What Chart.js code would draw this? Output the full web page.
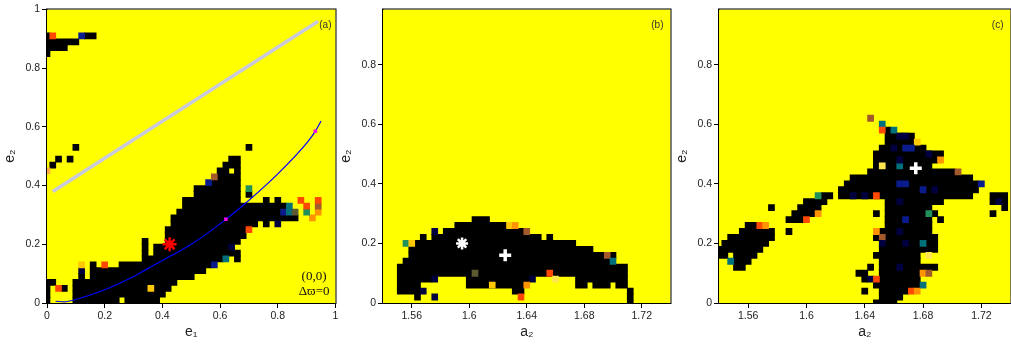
<!DOCTYPE html>
<html>
<head>
<meta charset="utf-8">
<script src="https://cdn.jsdelivr.net/npm/chart.js@4.4.1/dist/chart.umd.min.js"></script>
<style>
  html, body { margin: 0; padding: 0; background: #fff; width: 1011px; height: 345px; overflow: hidden; }
  canvas { position: absolute; top: 0; }
  #chartA { left: 0; }
  #chartB { left: 336px; }
  #chartC { left: 672px; }
</style>
</head>
<body>
<canvas id="chartA" width="345" height="345"></canvas>
<canvas id="chartB" width="344" height="345"></canvas>
<canvas id="chartC" width="348" height="345"></canvas>
<script>
// tick labels
const aTicks = [0, 0.2, 0.4, 0.6, 0.8, 1];
const bcXTicks = [1.56, 1.6, 1.64, 1.68, 1.72];
const bcYTicks = [0, 0.2, 0.4, 0.6, 0.8];

// panel (a): black runs [e2 of row, e1 of first cell, e1 of last cell]
const aBlack = [
  [0.91, 0, 0], [0.91, 0.14, 0.16], [0.89, 0, 0.10], [0.87, 0, 0.06], [0.85, 0, 0],
  [0.53, 0.10, 0.10], [0.53, 0.70, 0.70],
  [0.49, 0.04, 0.04], [0.49, 0.08, 0.08], [0.49, 0.64, 0.66],
  [0.47, 0.02, 0.02], [0.47, 0.62, 0.66],
  [0.45, 0.60, 0.62], [0.45, 0.66, 0.66],
  [0.43, 0.60, 0.66], [0.41, 0.58, 0.66], [0.39, 0.52, 0.66],
  [0.37, 0.52, 0.66], [0.37, 0.70, 0.70],
  [0.35, 0.48, 0.66], [0.35, 0.76, 0.76], [0.35, 0.80, 0.80],
  [0.33, 0.48, 0.82], [0.31, 0.46, 0.80], [0.29, 0.44, 0.86],
  [0.27, 0.44, 0.72], [0.27, 0.76, 0.76],
  [0.25, 0.42, 0.68], [0.23, 0.42, 0.68],
  [0.21, 0.34, 0.34], [0.21, 0.42, 0.66],
  [0.19, 0.34, 0.34], [0.19, 0.38, 0.62],
  [0.17, 0.34, 0.34], [0.17, 0.38, 0.66],
  [0.15, 0.34, 0.60], [0.15, 0.66, 0.66],
  [0.13, 0.16, 0.16], [0.13, 0.26, 0.56],
  [0.11, 0.16, 0.54],
  [0.09, 0.12, 0.12], [0.09, 0.16, 0.50],
  [0.07, 0, 0.02], [0.07, 0.10, 0.44],
  [0.05, 0, 0], [0.05, 0.06, 0.06], [0.05, 0.10, 0.34], [0.05, 0.38, 0.42],
  [0.03, 0, 0], [0.03, 0.10, 0.40],
  [0.01, 0, 0], [0.01, 0.10, 0.24], [0.01, 0.28, 0.38]
];
// coloured cells [e2, e1, colour code]
const aCells = [
  [0.91, 0.02, 'or'], [0.91, 0.12, 'bl'], [0.45, 0, 'lo'],
  [0.05, 0.04, 'or'], [0.05, 0.36, 'go'], [0.11, 0.12, 'nv'], [0.13, 0.12, 'go'], [0.13, 0.20, 'or'],
  [0.13, 0.58, 'bl'], [0.15, 0.62, 'te'], [0.19, 0.64, 'nv'], [0.25, 0.70, 'or'], [0.27, 0.80, 'nv'],
  [0.29, 0.92, 'oa'], [0.31, 0.82, 'bl'], [0.31, 0.84, 'te'], [0.31, 0.86, 'ol'], [0.31, 0.90, 'gr'],
  [0.31, 0.94, 'oa'], [0.33, 0.84, 'te'], [0.33, 0.90, 'or'], [0.33, 0.94, 'br'], [0.35, 0.88, 'or'],
  [0.35, 0.94, 'or'], [0.39, 0.70, 'gr'], [0.41, 0.56, 'bl'], [0.43, 0.58, 'br']
];
const aDiagE1 = [0.02, 0.94];
const aDiagE2 = [0.38, 0.96];
const aCurveE1 = [0.03, 0.06, 0.1, 0.2, 0.3, 0.34, 0.4, 0.5, 0.62, 0.7, 0.8, 0.9, 0.93, 0.95];
const aCurveE2 = [0.006, 0.004, 0.012, 0.045, 0.09, 0.112, 0.145, 0.2, 0.285, 0.35, 0.44, 0.545, 0.585, 0.62];
const aMagentaE1 = [0.62, 0.93];
const aMagentaE2 = [0.285, 0.585];
const aStar = [0.425, 0.2];

// panel (b): [e2, a2 of first cell, a2 of last cell]
const bBlack = [
  [0.28, 1.604, 1.612],
  [0.26, 1.592, 1.624],
  [0.24, 1.584, 1.636],
  [0.22, 1.568, 1.568], [0.22, 1.576, 1.648], [0.22, 1.656, 1.656],
  [0.20, 1.564, 1.672],
  [0.18, 1.56, 1.684],
  [0.16, 1.56, 1.692], [0.16, 1.7, 1.7],
  [0.14, 1.556, 1.696],
  [0.12, 1.552, 1.708],
  [0.10, 1.552, 1.708],
  [0.08, 1.552, 1.572], [0.08, 1.6, 1.64], [0.08, 1.676, 1.708],
  [0.06, 1.552, 1.564], [0.06, 1.6, 1.636], [0.06, 1.676, 1.68], [0.06, 1.688, 1.696], [0.06, 1.704, 1.708],
  [0.04, 1.552, 1.564], [0.04, 1.632, 1.636], [0.04, 1.712, 1.712],
  [0.02, 1.564, 1.564], [0.02, 1.712, 1.712],
  [0, 1.712, 1.712]
];
const bCells = [
  [0.26, 1.628, 'go'], [0.26, 1.632, 'oa'], [0.24, 1.576, 'nv'], [0.24, 1.64, 'br'], [0.20, 1.556, 'gr'],
  [0.20, 1.56, 'go'], [0.16, 1.696, 'br'], [0.14, 1.7, 'te'], [0.10, 1.604, 'ol'], [0.10, 1.656, 'or'],
  [0.08, 1.576, 'nv'], [0.08, 1.644, 'nv'], [0.08, 1.66, 'lg'], [0.06, 1.616, 'go'], [0.06, 1.64, 'oa'],
  [0.04, 1.568, 'nv'], [0.02, 1.576, 'nv'], [0.02, 1.636, 'or']
];
const bStar = [1.595, 0.2];
const bPlus = [1.625, 0.16];

// panel (c)
const cBlack = [
  [0.26, 1.56, 1.564], [0.24, 1.556, 1.576], [0.24, 1.588, 1.588], [0.22, 1.548, 1.576],
  [0.20, 1.544, 1.572], [0.18, 1.54, 1.568], [0.16, 1.54, 1.544], [0.16, 1.552, 1.564],
  [0.14, 1.552, 1.56], [0.12, 1.552, 1.556], [0.32, 1.576, 1.576],
  [0.36, 1.612, 1.616], [0.34, 1.6, 1.612], [0.32, 1.596, 1.608], [0.30, 1.592, 1.604], [0.28, 1.588, 1.596],
  [0.58, 1.656, 1.656], [0.56, 1.656, 1.672], [0.54, 1.656, 1.672], [0.52, 1.652, 1.68],
  [0.50, 1.648, 1.692], [0.48, 1.648, 1.688],
  [0.46, 1.648, 1.648], [0.46, 1.656, 1.66], [0.46, 1.668, 1.684],
  [0.44, 1.644, 1.7], [0.42, 1.632, 1.712], [0.40, 1.628, 1.716], [0.38, 1.624, 1.716],
  [0.36, 1.624, 1.712], [0.36, 1.728, 1.736],
  [0.34, 1.656, 1.692], [0.34, 1.728, 1.728], [0.34, 1.736, 1.736],
  [0.32, 1.656, 1.684], [0.32, 1.736, 1.736],
  [0.30, 1.648, 1.648], [0.30, 1.656, 1.68], [0.30, 1.688, 1.688], [0.30, 1.728, 1.728],
  [0.28, 1.656, 1.684], [0.28, 1.692, 1.692],
  [0.26, 1.656, 1.684], [0.24, 1.652, 1.684],
  [0.22, 1.648, 1.648], [0.22, 1.656, 1.688],
  [0.20, 1.656, 1.688], [0.18, 1.652, 1.688], [0.16, 1.648, 1.676], [0.14, 1.652, 1.676],
  [0.12, 1.644, 1.644], [0.12, 1.652, 1.688],
  [0.10, 1.636, 1.64], [0.10, 1.652, 1.676],
  [0.08, 1.64, 1.64], [0.08, 1.652, 1.676],
  [0.06, 1.648, 1.676],
  [0.04, 1.64, 1.64], [0.04, 1.652, 1.668],
  [0.02, 1.652, 1.664], [0, 1.648, 1.66]
];
const cCells = [
  [0.26, 1.568, 'or'], [0.26, 1.572, 'oa'], [0.14, 1.548, 'te'],
  [0.36, 1.608, 'gr'], [0.30, 1.608, 'oa'], [0.28, 1.6, 'or'],
  [0.62, 1.644, 'br'], [0.60, 1.652, 'te'], [0.58, 1.652, 'or'], [0.58, 1.66, 'te'],
  [0.54, 1.676, 'go'], [0.48, 1.692, 'oa'], [0.46, 1.652, 'lg'], [0.46, 1.664, 'te'],
  [0.44, 1.704, 'br'], [0.40, 1.72, 'bl'], [0.36, 1.64, 'nv'], [0.36, 1.648, 'or'],
  [0.34, 1.732, 'nv'], [0.30, 1.684, 'gr'], [0.24, 1.648, 'oa'], [0.22, 1.652, 'br'],
  [0.20, 1.652, 'nv'], [0.20, 1.68, 'te'], [0.16, 1.684, 'lg'], [0.10, 1.68, 'oa'], [0.10, 1.684, 'br'],
  [0.08, 1.644, 'nv'], [0.08, 1.648, 'or'], [0.06, 1.68, 'te'], [0.04, 1.672, 'or'], [0.04, 1.676, 'oa'],
  [0.56, 1.664, 'nv'], [0.56, 1.668, 'nv'], [0.52, 1.66, 'nv'], [0.52, 1.668, 'bl'], [0.52, 1.672, 'bl'],
  [0.50, 1.684, 'nv'], [0.48, 1.664, 'nv'], [0.40, 1.664, 'bl'], [0.40, 1.668, 'bl'], [0.38, 1.688, 'nv'],
  [0.38, 1.68, 'bl'], [0.36, 1.632, 'nv'], [0.34, 1.664, 'nv'], [0.28, 1.668, 'bl'], [0.24, 1.664, 'nv'],
  [0.20, 1.668, 'nv'], [0.12, 1.664, 'nv']
];
const cPlus = [1.675, 0.452];

const fam = "'Liberation Sans', Arial, Helvetica, sans-serif";
const palette = {
  or: '#ff4800', oa: '#ff9400', go: '#ffc800', lo: '#ffb040', lg: '#ffe650', br: '#a35a2a',
  te: '#00707a', gr: '#22905a', bl: '#0a1c8c', nv: '#00003e', ol: '#5c5a30'
};

function runBars(runs, half) {
  return runs.map(r => ({ x: [r[1] - half, r[2] + half], y: r[0] }));
}
function cellBars(cells, half) {
  return cells.map(c => ({ x: [c[1] - half, c[1] + half], y: c[0] }));
}
// Chart.js paints low "order" on top, so the grid goes to the back
function barSet(data, colour, order) {
  return {
    type: 'bar', indexAxis: 'y', data, backgroundColor: colour, borderWidth: 0, order,
    grouped: false, barPercentage: 1, categoryPercentage: 1, inflateAmount: 0.45, clip: 0
  };
}
function pts(xs, ys) {
  return xs.map((x, i) => ({ x, y: ys[i] }));
}

function decor(label, labelDx, notes) {
  return {
    id: 'decor',
    beforeDatasetsDraw(chart) {
      const { ctx, chartArea: a } = chart;
      ctx.save();
      ctx.fillStyle = '#ffff00';
      ctx.fillRect(a.left, a.top, a.right - a.left, a.bottom - a.top);
      ctx.restore();
    },
    afterDraw(chart) {
      const { ctx, chartArea: a } = chart;
      ctx.save();
      ctx.strokeStyle = '#000';
      ctx.lineWidth = 1;
      ctx.strokeRect(a.left - 0.5, a.top - 0.5, a.right - a.left + 1, a.bottom - a.top + 1);
      ctx.fillStyle = '#333';
      ctx.font = '10px ' + fam;
      ctx.textAlign = 'right';
      ctx.textBaseline = 'middle';
      ctx.fillText(label, a.right - labelDx, a.top + 16);
      if (notes) {
        ctx.fillStyle = '#111';
        ctx.font = '13px "Liberation Serif", "Times New Roman", serif';
        ctx.fillText('(0,0)', a.right - 9, a.bottom - 26);
        ctx.fillText('Δϖ=0', a.right - 6, a.bottom - 11);
      }
      ctx.restore();
    }
  };
}

function axis(min, max, ticks, title, isX) {
  return {
    type: 'linear', min, max, offset: false,
    grid: { display: true, drawOnChartArea: false, drawTicks: true, tickLength: 5, color: '#000', tickColor: '#000', offset: false },
    border: { display: true, color: '#000', width: 1 },
    ticks: {
      color: '#222', font: { family: fam, size: 10.5 }, padding: 2, autoSkip: false, maxRotation: 0,
      callback: v => String(v)
    },
    title: { display: true, text: title, color: '#222', font: { family: fam, size: 14 }, padding: { top: 2, bottom: 4 } },
    afterBuildTicks: s => { s.ticks = ticks.map(v => ({ value: v })); },
    afterFit: s => { if (isX) s.height = 42; else s.width = 47; }
  };
}

function makeChart(id, datasets, scales, rightPad, topPad, plugin) {
  return new Chart(document.getElementById(id), {
    type: 'scatter',
    data: { datasets },
    options: {
      responsive: false,
      animation: false,
      events: [],
      layout: { padding: { left: 0, right: rightPad, top: topPad, bottom: 0 } },
      plugins: { legend: { display: false }, tooltip: { enabled: false } },
      scales
    },
    plugins: [plugin]
  });
}

// (a)
makeChart('chartA', [
  barSet(runBars(aBlack, 0.01), '#000', 9),
  barSet(cellBars(aCells, 0.01), aCells.map(c => palette[c[2]]), 8),
  { type: 'line', order: 4, data: pts(aDiagE1, aDiagE2), borderColor: '#c9c9dd', borderWidth: 3.5, pointRadius: 0, fill: false },
  { type: 'line', order: 3, data: pts(aCurveE1, aCurveE2), borderColor: '#0000ff', borderWidth: 1.2, pointRadius: 0,
    fill: false, cubicInterpolationMode: 'monotone' },
  { type: 'scatter', order: 2, data: pts(aMagentaE1, aMagentaE2), pointStyle: 'rect', pointRadius: 2.5,
    backgroundColor: '#ff00ff', borderWidth: 0 },
  { type: 'scatter', order: 1, data: [{ x: aStar[0], y: aStar[1] }], pointStyle: 'star', pointRadius: 7,
    borderColor: '#ff0000', borderWidth: 2.5 }
], {
  x: axis(0, 1, aTicks, 'e₁', true),
  y: axis(0, 1, aTicks, 'e₂', false)
}, 4, 9, decor('(a)', 4, true));

// (b)
makeChart('chartB', [
  barSet(runBars(bBlack, 0.002), '#000', 9),
  barSet(cellBars(bCells, 0.002), bCells.map(c => palette[c[2]]), 8),
  { type: 'scatter', order: 2, data: [{ x: bStar[0], y: bStar[1] }], pointStyle: 'star', pointRadius: 6,
    borderColor: '#ffffff', borderWidth: 2.5 },
  { type: 'scatter', order: 1, data: [{ x: bPlus[0], y: bPlus[1] }], pointStyle: 'cross', pointRadius: 6,
    borderColor: '#ffffff', borderWidth: 3.5 }
], {
  x: axis(1.54, 1.74, bcXTicks, 'a₂', true),
  y: axis(0, 0.985, bcYTicks, 'e₂', false)
}, 3, 5, decor('(b)', 7, false));

// (c)
makeChart('chartC', [
  barSet(runBars(cBlack, 0.002), '#000', 9),
  barSet(cellBars(cCells, 0.002), cCells.map(c => palette[c[2]]), 8),
  { type: 'scatter', order: 1, data: [{ x: cPlus[0], y: cPlus[1] }], pointStyle: 'cross', pointRadius: 6,
    borderColor: '#ffffff', borderWidth: 3.5 }
], {
  x: axis(1.54, 1.74, bcXTicks, 'a₂', true),
  y: axis(0, 0.985, bcYTicks, 'e₂', false)
}, 6, 5, decor('(c)', 7, false));
</script>
</body>
</html>
